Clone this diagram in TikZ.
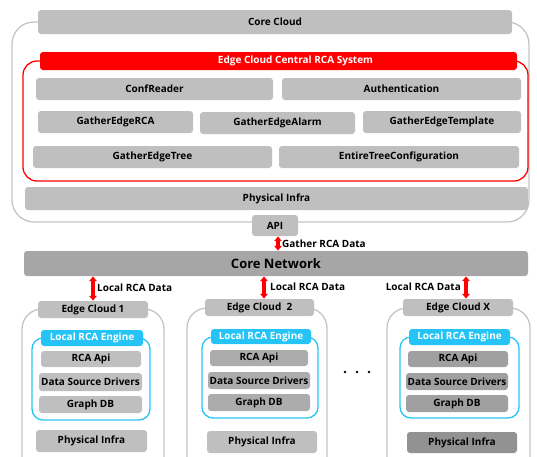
\documentclass[tikz,border=0pt]{standalone}
\usepackage{fontspec}
\setmainfont{Open Sans}
\usetikzlibrary{arrows.meta}

\definecolor{boxgray}{RGB}{191,191,191}
\definecolor{netgray}{RGB}{166,166,166}
\definecolor{midgray}{RGB}{172,172,172}
\definecolor{deepgray}{RGB}{160,160,160}
\definecolor{infragray}{RGB}{146,146,146}
\definecolor{framegray}{RGB}{196,196,196}
\definecolor{enginecyan}{RGB}{38,196,246}
\definecolor{rcared}{RGB}{255,0,0}

\tikzset{
  blk/.style={rectangle, rounded corners=3pt, fill=boxgray, inner sep=0pt,
    font=\fontsize{10}{12}\selectfont\bfseries, text=black},
  outline/.style={rectangle, fill=none, inner sep=0pt, line width=1.3pt},
  cloudframe/.style={outline, draw=framegray, rounded corners=22pt},
  redframe/.style={outline, draw=rcared, rounded corners=14pt},
  cyanframe/.style={outline, draw=enginecyan, rounded corners=11pt},
  redhead/.style={blk, fill=rcared, text=white},
  cyanhead/.style={blk, fill=enginecyan, text=white},
  lbl/.style={inner sep=0pt, font=\fontsize{10}{12}\selectfont\bfseries},
  rarrow/.style={{Latex[length=5pt,width=9pt]}-{Latex[length=5pt,width=9pt]},
    line width=3.4pt, draw=rcared},
}

% \placebox[options]{x1}{y1}{x2}{y2}{name}{text}
\newcommand{\placebox}[7][]{%
  \node[blk,#1,minimum width={(#4-#2)*1pt},minimum height={(#5-#3)*1pt}]
    (#6) at ({(#2+#4)/2},{(#3+#5)/2}) {#7};}

\begin{document}
\begin{tikzpicture}[x=1pt,y=-1pt]
\useasboundingbox (0,0) rectangle (537,456);

% ---- Core cloud ----
\placebox[cloudframe]{12}{22}{529}{222}{coreframe}{}
\placebox{38}{10}{512}{34}{corecloud}{Core Cloud}

\placebox[redframe]{23}{61}{528}{181}{rcaframe}{}
\placebox[redhead]{40}{52}{517}{70}{rcahead}{\hspace*{34pt}Edge Cloud Central RCA System}

\placebox{36}{78}{273}{100}{confreader}{ConfReader}
\placebox{282}{78}{521}{100}{auth}{Authentication}
\placebox{38}{111}{193}{133}{gatherrca}{GatherEdgeRCA}
\placebox{200}{112}{355}{134}{gatheralarm}{GatherEdgeAlarm}
\placebox{363}{111}{521}{133}{gathertemplate}{GatherEdgeTemplate}
\placebox{33}{146}{272}{168}{gathertree}{GatherEdgeTree}
\placebox{279}{146}{519}{168}{entiretree}{EntireTreeConfiguration}

\placebox{25}{187}{528}{210}{coreinfra}{Physical Infra}
\placebox{252}{215}{298}{236}{api}{API}

% ---- Core network ----
\placebox[fill=netgray,font=\fontsize{13}{15}\selectfont\bfseries]{24}{251}{528}{276}{corenet}{Core Network}

% ---- Edge cloud 1 ----
\placebox[cloudframe,rounded corners=20pt]{22}{309}{164}{480}{ec1frame}{}
\placebox{38}{301}{148}{318}{ec1head}{Edge Cloud 1}
\placebox[cyanframe]{32}{338}{150}{420}{ec1engframe}{}
\placebox[cyanhead]{41}{330}{143}{346}{ec1eng}{Local RCA Engine}
\placebox{41}{351}{141}{367}{ec1api}{RCA Api}
\placebox{39}{373}{142}{391}{ec1drv}{Data Source Drivers}
\placebox{39}{396}{142}{413}{ec1db}{Graph DB}
\placebox{36}{430}{147}{452}{ec1infra}{Physical Infra}

% ---- Edge cloud 2 ----
\placebox[cloudframe,rounded corners=20pt]{187}{308}{327}{480}{ec2frame}{}
\placebox{205}{299}{314}{316}{ec2head}{Edge Cloud\ \ 2}
\placebox[cyanframe]{202}{337}{318}{418}{ec2engframe}{}
\placebox[cyanhead]{211}{329}{311}{344}{ec2eng}{Local RCA Engine}
\placebox[fill=midgray]{210}{350}{308}{366}{ec2api}{RCA Api}
\placebox[fill=midgray]{208}{372}{310}{389}{ec2drv}{Data Source Drivers}
\placebox[fill=midgray]{208}{394}{310}{411}{ec2db}{Graph DB}
\placebox{207}{431}{317}{453}{ec2infra}{Physical Infra}

% ---- Edge cloud X ----
\placebox[cloudframe,rounded corners=20pt]{387}{308}{530}{480}{ecxframe}{}
\placebox{403}{299}{513}{316}{ecxhead}{Edge Cloud X}
\placebox[cyanframe]{400}{337}{519}{418}{ecxengframe}{}
\placebox[cyanhead]{409}{329}{510}{345}{ecxeng}{Local RCA Engine}
\placebox[fill=deepgray]{408}{351}{508}{367}{ecxapi}{RCA Api}
\placebox[fill=deepgray]{406}{373}{508}{390}{ecxdrv}{Data Source Drivers}
\placebox[fill=deepgray]{406}{395}{508}{412}{ecxdb}{Graph DB}
\placebox[fill=infragray]{407}{432}{517}{453}{ecxinfra}{Physical Infra}

% ellipsis between the edge clouds
\foreach \i/\dx in {1/345,2/357,3/369}
  \node[circle, fill=black, inner sep=0pt, minimum size=2.6pt] (dot\i) at (\dx,372) {};

% ---- data flows ----
\draw[rarrow] ([xshift=3pt]api.south) -- ([xshift=3pt]api.south |- corenet.north);
\node[lbl, anchor=west] (gatherlbl) at (282,243.5) {Gather RCA Data};

\draw[rarrow] (ec1head.north |- corenet.south) -- (ec1head.north);
\node[lbl, anchor=west] (ec1lbl) at (97,288) {Local RCA Data};

\draw[rarrow] ([xshift=4.5pt]ec2head.north |- corenet.south) -- ([xshift=4.5pt]ec2head.north);
\node[lbl, anchor=west] (ec2lbl) at (270,287) {Local RCA Data};

\draw[rarrow] ([xshift=8pt]ecxhead.north |- corenet.south) -- ([xshift=8pt]ecxhead.north);
\node[lbl, anchor=east] (ecxlbl) at (461,287) {Local RCA Data};
\end{tikzpicture}
\end{document}
